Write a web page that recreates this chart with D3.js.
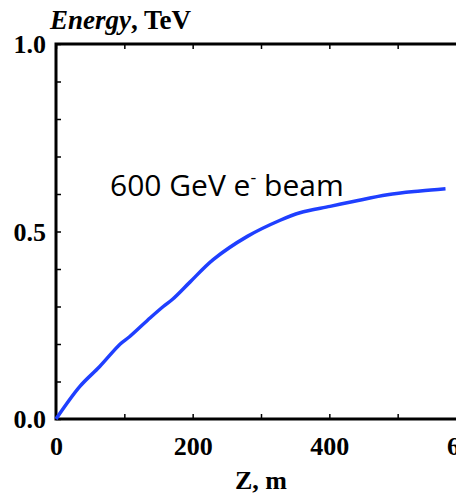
<!DOCTYPE html>
<html>
<head>
<meta charset="utf-8">
<script src="https://cdn.jsdelivr.net/npm/d3@7"></script>
<style>
  html, body { margin: 0; padding: 0; background: #fff; }
  svg { display: block; }
  .tick-label { font-family: "Liberation Serif", "DejaVu Serif", serif; font-weight: bold; font-size: 26px; fill: #000; }
</style>
</head>
<body>
<div id="chart"></div>
<script>
// curve: distance along Z (m) and energy (TeV)
const zValues = [0, 35, 64, 94, 108, 138, 157, 171, 196, 230, 280, 328, 357, 401, 435, 485, 533, 570];
const energyValues = [0, 0.087, 0.14, 0.20, 0.22, 0.27, 0.30, 0.32, 0.365, 0.425, 0.487, 0.53, 0.55, 0.567, 0.58, 0.598, 0.608, 0.614];

const xTicks = [0, 100, 200, 300, 400, 500, 600];
const xTickLabels = ['0', '', '200', '', '400', '', '600'];
const yTicks = [0, 0.1, 0.2, 0.3, 0.4, 0.5, 0.6, 0.7, 0.8, 0.9, 1.0];
const yTickLabels = ['0.0', '', '', '', '', '0.5', '', '', '', '', '1.0'];

const W = 456, H = 494;
const margin = { top: 44, right: -10, bottom: 75, left: 56 };

const svg = d3.select('#chart').append('svg')
    .attr('width', W)
    .attr('height', H);

const x = d3.scaleLinear().domain([0, 600]).range([margin.left, W - margin.right]);
const y = d3.scaleLinear().domain([0, 1]).range([H - margin.bottom, margin.top]);

const tickLen = 5;

// bottom axis, ticks pointing inward
const xAxis = svg.append('g')
    .attr('transform', `translate(0,${y(0)})`)
    .call(d3.axisBottom(x).tickValues(xTicks).tickSize(-tickLen).tickFormat((d, i) => xTickLabels[i]));
xAxis.select('.domain').remove();
xAxis.selectAll('.tick line').attr('stroke', '#000').attr('stroke-width', 1.5);
xAxis.selectAll('.tick text')
    .attr('class', 'tick-label')
    .attr('y', 18)
    .attr('dy', '0.71em');

// top ticks
const xTop = svg.append('g')
    .attr('transform', `translate(0,${y(1)})`)
    .call(d3.axisTop(x).tickValues(xTicks).tickSize(-tickLen).tickFormat(''));
xTop.select('.domain').remove();
xTop.selectAll('.tick line').attr('stroke', '#000').attr('stroke-width', 1.5);

// left axis
const yAxis = svg.append('g')
    .attr('transform', `translate(${x(0)},0)`)
    .call(d3.axisLeft(y).tickValues(yTicks).tickSize(-tickLen).tickFormat((d, i) => yTickLabels[i]));
yAxis.select('.domain').remove();
yAxis.selectAll('.tick line').attr('stroke', '#000').attr('stroke-width', 1.5);
yAxis.selectAll('.tick text')
    .attr('class', 'tick-label')
    .attr('x', -10)
    .attr('dy', '0.34em');

// frame
svg.append('path')
    .attr('d', `M${x(600) + 5},${y(1)}H${x(0)}V${y(0)}H${x(600) + 5}`)
    .attr('fill', 'none')
    .attr('stroke', '#000')
    .attr('stroke-width', 3);

// curve
const line = d3.line()
    .x((d, i) => x(zValues[i]))
    .y(d => y(d))
    .curve(d3.curveCatmullRom);

svg.append('path')
    .datum(energyValues)
    .attr('d', line)
    .attr('fill', 'none')
    .attr('stroke', '#1f3fff')
    .attr('stroke-width', 3.5)
    .attr('stroke-linejoin', 'round');

// axis titles
const title = svg.append('text')
    .attr('x', 50)
    .attr('y', 29)
    .attr('font-family', '"Liberation Serif", serif')
    .attr('font-weight', 'bold')
    .attr('font-size', 27);
title.append('tspan').attr('font-style', 'italic').text('Energy');
title.append('tspan').text(', TeV');

svg.append('text')
    .attr('x', x(300))
    .attr('y', 489)
    .attr('text-anchor', 'middle')
    .attr('font-family', '"Liberation Serif", serif')
    .attr('font-weight', 'bold')
    .attr('font-size', 26)
    .text('Z, m');

// annotation
const note = svg.append('text')
    .attr('x', 110)
    .attr('y', 196)
    .attr('font-family', '"Open Sans", sans-serif')
    .attr('font-size', 30)
    .attr('fill', '#000');
note.append('tspan').text('600 GeV e');
note.append('tspan').attr('font-size', 18).attr('dy', -12).text('-');
note.append('tspan').attr('dy', 12).text(' beam');
</script>
</body>
</html>
